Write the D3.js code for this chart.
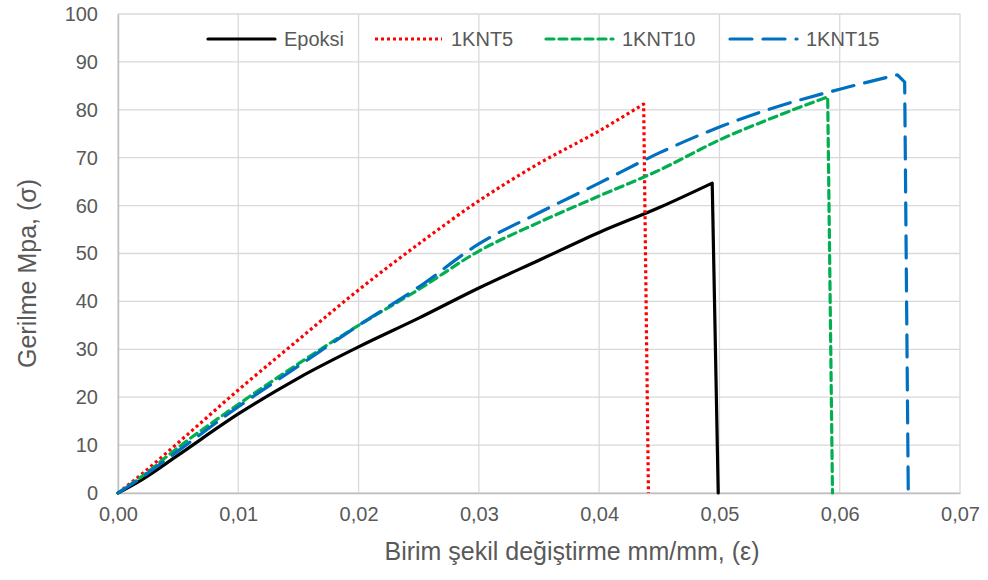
<!DOCTYPE html>
<html>
<head>
<meta charset="utf-8">
<script src="https://cdn.jsdelivr.net/npm/d3@7"></script>
<style>
  body { margin: 0; background: #fff; }
  text { font-family: Arial, "Liberation Sans", sans-serif; fill: #595959; }
</style>
</head>
<body>
<div id="chart"></div>
<script>
// values (last point = fracture drop)
const epoksiStrain = [0, 0.002, 0.005, 0.01, 0.015, 0.02, 0.025, 0.03, 0.035, 0.04, 0.045, 0.0494, 0.0499];
const epoksiStress = [0, 2.8, 7.9, 16.5, 24, 30.5, 36.5, 42.8, 48.6, 54.4, 59.6, 64.7, 0];

const knt5Strain = [0, 0.002, 0.005, 0.01, 0.015, 0.02, 0.025, 0.03, 0.035, 0.04, 0.0437, 0.0441];
const knt5Stress = [0, 4, 10.5, 21.5, 32, 42.4, 52, 61, 68.8, 75.6, 81.2, 0];

const knt10Strain = [0, 0.002, 0.005, 0.01, 0.015, 0.02, 0.025, 0.03, 0.035, 0.04, 0.045, 0.05, 0.055, 0.059, 0.0594];
const knt10Stress = [0, 3.5, 9.5, 18.5, 27, 35, 42.5, 50.5, 56.5, 62, 67.4, 73.7, 78.9, 82.7, 0];

const knt15Strain = [0, 0.002, 0.005, 0.01, 0.015, 0.02, 0.025, 0.03, 0.035, 0.04, 0.045, 0.05, 0.055, 0.06, 0.0648, 0.0654, 0.0657];
const knt15Stress = [0, 3.3, 8.8, 18, 26.5, 35, 43, 52, 58.5, 64.7, 71, 76.4, 80.8, 84.3, 87.3, 85.8, 0];

const seriesNames = ['Epoksi', '1KNT5', '1KNT10', '1KNT15'];
const xTicks = [0, 0.01, 0.02, 0.03, 0.04, 0.05, 0.06, 0.07];
const yTicks = [0, 10, 20, 30, 40, 50, 60, 70, 80, 90, 100];

const width = 988, height = 580;
const margin = { top: 14, right: 28, bottom: 87, left: 118 };

const svg = d3.select('#chart').append('svg')
  .attr('width', width)
  .attr('height', height);

const x = d3.scaleLinear().domain([0, 0.07]).range([margin.left, width - margin.right]);
const y = d3.scaleLinear().domain([0, 100]).range([height - margin.bottom, margin.top]);

// grid
svg.append('g').selectAll('line.h')
  .data(yTicks).enter().append('line')
  .attr('x1', x(0)).attr('x2', x(0.07))
  .attr('y1', d => y(d)).attr('y2', d => y(d))
  .attr('stroke', '#d9d9d9').attr('stroke-width', 1.3);
svg.append('g').selectAll('line.v')
  .data(xTicks).enter().append('line')
  .attr('y1', y(0)).attr('y2', y(100))
  .attr('x1', d => x(d)).attr('x2', d => x(d))
  .attr('stroke', '#d9d9d9').attr('stroke-width', 1.3);

// axes
const fmtX = d => d3.format('.2f')(d).replace('.', ',');
const xAxis = svg.append('g')
  .attr('transform', `translate(0,${y(0)})`)
  .call(d3.axisBottom(x).tickValues(xTicks).tickFormat(fmtX).tickSize(0).tickPadding(14));
const yAxis = svg.append('g')
  .attr('transform', `translate(${x(0)},0)`)
  .call(d3.axisLeft(y).tickValues(yTicks).tickSize(0).tickPadding(20));
[xAxis, yAxis].forEach(a => {
  a.select('.domain').attr('stroke', '#bfbfbf').attr('stroke-width', 1.5);
  a.selectAll('text').style('font-size', '20px').attr('fill', '#595959');
});

// series
const series = [
  { name: seriesNames[0], xs: epoksiStrain, ys: epoksiStress, color: '#000000', dash: null },
  { name: seriesNames[1], xs: knt5Strain, ys: knt5Stress, color: '#ff0000', dash: '3,3' },
  { name: seriesNames[2], xs: knt10Strain, ys: knt10Stress, color: '#00b050', dash: '8,5' },
  { name: seriesNames[3], xs: knt15Strain, ys: knt15Stress, color: '#0070c0', dash: '22,11' }
];

// smooth rising part up to the peak, straight segments for the fracture drop
const smooth = d3.line().x(d => x(d[0])).y(d => y(d[1])).curve(d3.curveMonotoneX);
function pathFor(s) {
  const pts = s.xs.map((v, i) => [v, s.ys[i]]);
  const peak = d3.maxIndex(s.ys);
  let d = smooth(pts.slice(0, peak + 1));
  pts.slice(peak + 1).forEach(p => { d += `L${x(p[0])},${y(p[1])}`; });
  return d;
}

svg.append('g').selectAll('path')
  .data(series).enter().append('path')
  .attr('d', pathFor)
  .attr('fill', 'none')
  .attr('stroke', s => s.color)
  .attr('stroke-width', 3.2)
  .attr('stroke-linejoin', 'round')
  .attr('stroke-linecap', s => s.dash === '3,3' ? 'butt' : 'round')
  .attr('stroke-dasharray', s => s.dash);

// legend
const legendX = [208, 375, 546, 730];
const leg = svg.append('g').selectAll('g')
  .data(series).enter().append('g')
  .attr('transform', (s, i) => `translate(${legendX[i]},39)`);
leg.append('line')
  .attr('x1', 0).attr('x2', 67)
  .attr('stroke', s => s.color)
  .attr('stroke-width', 3.2)
  .attr('stroke-linecap', s => s.dash === '3,3' ? 'butt' : 'round')
  .attr('stroke-dasharray', s => s.dash);
leg.append('text')
  .attr('x', 76).attr('dy', '0.35em')
  .style('font-size', '20px')
  .text(s => s.name);

// axis titles
svg.append('text')
  .attr('x', 572).attr('y', 560)
  .attr('text-anchor', 'middle')
  .style('font-size', '25px')
  .text('Birim şekil değiştirme mm/mm, (ε)');
svg.append('text')
  .attr('transform', `translate(36,${(y(0) + y(100)) / 2 + 20}) rotate(-90)`)
  .attr('text-anchor', 'middle')
  .style('font-size', '25px')
  .text('Gerilme Mpa, (σ)');
</script>
</body>
</html>
